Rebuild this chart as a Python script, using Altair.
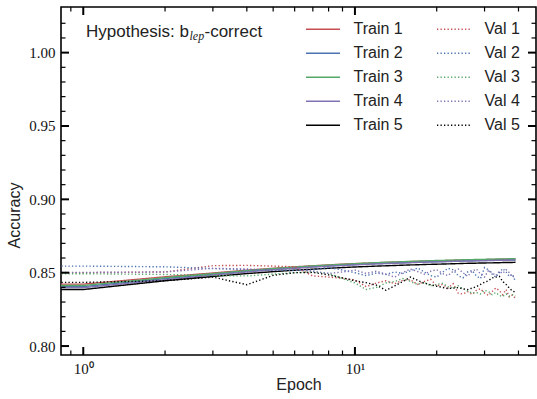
import altair as alt
import pandas as pd

# ---- data -----------------------------------------------------------------
epochs = list(range(40))

train_1 = [0.8422, 0.8422, 0.8472, 0.8498, 0.8517, 0.8530, 0.8540, 0.8547, 0.8553, 0.8558,
           0.8562, 0.8565, 0.8568, 0.8570, 0.8572, 0.8574, 0.8576, 0.8577, 0.8579, 0.8580,
           0.8581, 0.8582, 0.8583, 0.8584, 0.8585, 0.8586, 0.8587, 0.8587, 0.8588, 0.8589,
           0.8589, 0.8590, 0.8590, 0.8591, 0.8591, 0.8592, 0.8592, 0.8592, 0.8593, 0.8593]
train_2 = [0.8405, 0.8405, 0.8460, 0.8490, 0.8510, 0.8524, 0.8534, 0.8541, 0.8547, 0.8552,
           0.8556, 0.8559, 0.8562, 0.8564, 0.8566, 0.8568, 0.8570, 0.8572, 0.8573, 0.8574,
           0.8575, 0.8576, 0.8577, 0.8578, 0.8579, 0.8580, 0.8581, 0.8581, 0.8582, 0.8583,
           0.8583, 0.8584, 0.8584, 0.8585, 0.8585, 0.8586, 0.8586, 0.8586, 0.8587, 0.8587]
train_3 = [0.8413, 0.8413, 0.8466, 0.8494, 0.8514, 0.8528, 0.8538, 0.8546, 0.8552, 0.8557,
           0.8561, 0.8565, 0.8568, 0.8571, 0.8573, 0.8575, 0.8577, 0.8579, 0.8580, 0.8582,
           0.8583, 0.8584, 0.8585, 0.8586, 0.8587, 0.8588, 0.8589, 0.8589, 0.8590, 0.8591,
           0.8591, 0.8592, 0.8592, 0.8593, 0.8593, 0.8594, 0.8594, 0.8595, 0.8595, 0.8595]
train_4 = [0.8398, 0.8398, 0.8452, 0.8484, 0.8505, 0.8519, 0.8530, 0.8538, 0.8544, 0.8549,
           0.8553, 0.8557, 0.8560, 0.8562, 0.8564, 0.8566, 0.8568, 0.8570, 0.8571, 0.8573,
           0.8574, 0.8575, 0.8576, 0.8577, 0.8578, 0.8579, 0.8580, 0.8580, 0.8581, 0.8582,
           0.8582, 0.8583, 0.8583, 0.8584, 0.8584, 0.8585, 0.8585, 0.8585, 0.8586, 0.8586]
train_5 = [0.8385, 0.8385, 0.8445, 0.8474, 0.8494, 0.8507, 0.8517, 0.8524, 0.8530, 0.8535,
           0.8539, 0.8542, 0.8545, 0.8547, 0.8549, 0.8551, 0.8553, 0.8554, 0.8556, 0.8557,
           0.8558, 0.8559, 0.8560, 0.8561, 0.8562, 0.8563, 0.8564, 0.8564, 0.8565, 0.8566,
           0.8566, 0.8567, 0.8567, 0.8568, 0.8568, 0.8569, 0.8569, 0.8570, 0.8570, 0.8571]

val_1 = [0.8500, 0.8500, 0.8505, 0.8548, 0.8550, 0.8545, 0.8540, 0.8478, 0.8470, 0.8462,
         0.8450, 0.8405, 0.8430, 0.8445, 0.8425, 0.8448, 0.8452, 0.8420, 0.8440, 0.8455,
         0.8410, 0.8420, 0.8395, 0.8425, 0.8360, 0.8355, 0.8370, 0.8352, 0.8380, 0.8390,
         0.8362, 0.8345, 0.8372, 0.8395, 0.8378, 0.8350, 0.8385, 0.8335, 0.8348, 0.8325]
val_2 = [0.8545, 0.8545, 0.8540, 0.8528, 0.8522, 0.8518, 0.8515, 0.8520, 0.8535, 0.8518,
         0.8500, 0.8480, 0.8498, 0.8488, 0.8505, 0.8495, 0.8512, 0.8532, 0.8505, 0.8480,
         0.8470, 0.8502, 0.8530, 0.8520, 0.8480, 0.8465, 0.8505, 0.8515, 0.8478, 0.8460,
         0.8535, 0.8520, 0.8490, 0.8470, 0.8500, 0.8528, 0.8505, 0.8475, 0.8490, 0.8438]
val_3 = [0.8493, 0.8493, 0.8488, 0.8480, 0.8478, 0.8490, 0.8500, 0.8505, 0.8495, 0.8460,
         0.8430, 0.8385, 0.8400, 0.8430, 0.8440, 0.8460, 0.8440, 0.8420, 0.8435, 0.8410,
         0.8420, 0.8428, 0.8405, 0.8395, 0.8410, 0.8390, 0.8375, 0.8360, 0.8365, 0.8355,
         0.8380, 0.8372, 0.8350, 0.8365, 0.8345, 0.8338, 0.8355, 0.8340, 0.8350, 0.8342]
val_4 = [0.8502, 0.8502, 0.8505, 0.8530, 0.8525, 0.8520, 0.8528, 0.8510, 0.8495, 0.8505,
         0.8518, 0.8495, 0.8510, 0.8490, 0.8470, 0.8500, 0.8525, 0.8508, 0.8490, 0.8510,
         0.8520, 0.8495, 0.8480, 0.8510, 0.8525, 0.8500, 0.8475, 0.8510, 0.8525, 0.8490,
         0.8470, 0.8515, 0.8500, 0.8480, 0.8510, 0.8495, 0.8520, 0.8500, 0.8470, 0.8482]
val_5 = [0.8434, 0.8434, 0.8445, 0.8470, 0.8418, 0.8482, 0.8500, 0.8502, 0.8485, 0.8465,
         0.8445, 0.8432, 0.8415, 0.8380, 0.8410, 0.8440, 0.8470, 0.8448, 0.8428, 0.8418,
         0.8408, 0.8400, 0.8392, 0.8395, 0.8398, 0.8390, 0.8385, 0.8395, 0.8405, 0.8420,
         0.8435, 0.8445, 0.8465, 0.8470, 0.8475, 0.8440, 0.8420, 0.8395, 0.8375, 0.8368]

series = {
    "Train 1": train_1, "Train 2": train_2, "Train 3": train_3,
    "Train 4": train_4, "Train 5": train_5,
    "Val 1": val_1, "Val 2": val_2, "Val 3": val_3,
    "Val 4": val_4, "Val 5": val_5,
}
run_colors = ["#c44e52", "#4c72b0", "#55a868", "#8172b2", "#000000"]

y_major = [0.80, 0.85, 0.90, 0.95, 1.00]
y_minor = [0.81, 0.82, 0.83, 0.84, 0.86, 0.87, 0.88, 0.89, 0.91, 0.92, 0.93, 0.94,
           0.96, 0.97, 0.98, 0.99, 1.01, 1.02]
x_major = [1, 10]
x_minor = [0.9, 2, 3, 4, 5, 6, 7, 8, 9, 20, 30, 40]

# ---- long table; epoch 0 is clipped onto the log axis like matplotlib does --
rows = []
for name, vals in series.items():
    for e, v in zip(epochs, vals):
        rows.append({"epoch": e if e > 0 else 0.01, "acc": v, "series": name})
df = pd.DataFrame(rows)

order = list(series.keys())
colors = run_colors * 2
dashes = [[1, 0]] * 5 + [[1.3, 2.2]] * 5

W, H = 475, 348
x_scale = alt.Scale(type="log", domain=[0.828, 46.4], nice=False)
y_scale = alt.Scale(domain=[0.7939, 1.0311], nice=False, zero=False)

x_axis = alt.Axis(values=x_major, title="Epoch",
                  labelExpr="datum.value == 1 ? '10\u2070' : '10\u00b9'",
                  labelPadding=6, titleBaseline="alphabetic", titleY=34)
y_axis = alt.Axis(values=y_major, format=".2f", title="Accuracy",
                  labelPadding=6, titleBaseline="middle", titleX=-47, titleY=208)

legend = alt.Legend(
    title=None, orient="none", legendX=244, legendY=10.3, columns=2,
    columnPadding=33, rowPadding=0, clipHeight=24, labelOffset=12.5, padding=0,
    symbolType="stroke", symbolSize=1156, symbolStrokeWidth=1.5,
    labelFont="Liberation Sans", labelFontSize=16, labelColor="#222",
    labelLimit=0,
)

lines = alt.Chart(df).mark_line(clip=True, strokeWidth=1.4).encode(
    x=alt.X("epoch:Q", scale=x_scale, axis=x_axis),
    y=alt.Y("acc:Q", scale=y_scale, axis=y_axis),
    color=alt.Color("series:N", scale=alt.Scale(domain=order, range=colors),
                    legend=legend),
    strokeDash=alt.StrokeDash("series:N", scale=alt.Scale(domain=order, range=dashes),
                              legend=legend),
)


def y_ticks(values, x0, x1, width):
    return alt.Chart(pd.DataFrame({"v": values})).mark_rule(
        color="black", strokeWidth=width).encode(
        y=alt.Y("v:Q", scale=y_scale, axis=y_axis), x=alt.value(x0), x2=alt.value(x1))


def x_ticks(values, y0, y1, width):
    return alt.Chart(pd.DataFrame({"v": values})).mark_rule(
        color="black", strokeWidth=width).encode(
        x=alt.X("v:Q", scale=x_scale, axis=x_axis), y=alt.value(y0), y2=alt.value(y1))


ticks = [
    y_ticks(y_major, 0, 8, 2), y_ticks(y_major, W - 8, W, 2),
    y_ticks(y_minor, 0, 4.5, 1.2), y_ticks(y_minor, W - 4.5, W, 1.2),
    x_ticks(x_major, H - 8, H, 2), x_ticks(x_major, 0, 8, 2),
    x_ticks(x_minor, H - 4.5, H, 1.2), x_ticks(x_minor, 0, 4.5, 1.2),
]

# annotation: "Hypothesis: b_lep-correct"
note = pd.DataFrame({"t": ["Hypothesis: b"]})
sub = pd.DataFrame({"t": ["lep"]})
tail = pd.DataFrame({"t": ["-correct"]})
note_main = alt.Chart(note).mark_text(
    align="left", baseline="alphabetic", font="Liberation Sans", fontSize=17,
    color="#222").encode(text="t:N", x=alt.value(25), y=alt.value(29.7))
note_sub = alt.Chart(sub).mark_text(
    align="left", baseline="alphabetic", font="Liberation Serif", fontStyle="italic",
    fontSize=12, color="#222").encode(text="t:N", x=alt.value(128.5), y=alt.value(32.5))
note_tail = alt.Chart(tail).mark_text(
    align="left", baseline="alphabetic", font="Liberation Sans", fontSize=17,
    color="#222").encode(text="t:N", x=alt.value(143.5), y=alt.value(29.7))

chart = alt.layer(lines, *ticks, note_main, note_sub, note_tail).properties(
    width=W, height=H,
    padding={"left": 61, "top": 7, "right": 1, "bottom": 44},
    autosize="none",
    background="white",
).configure_view(
    stroke="black", strokeWidth=1.6,
).configure_axis(
    domain=False, ticks=False, tickSize=0, grid=False,
    labelFont="Liberation Serif", labelFontSize=15, labelColor="#111",
    titleFont="Liberation Sans", titleFontSize=16, titleFontWeight="normal",
    titleColor="#222",
)

chart.save("out.html", embed_options={"renderer": "svg", "actions": False})
